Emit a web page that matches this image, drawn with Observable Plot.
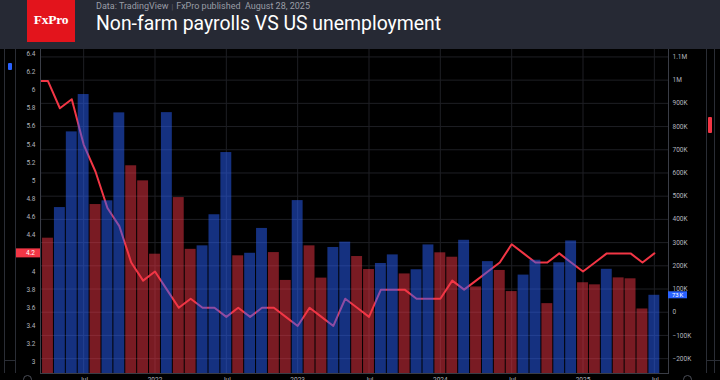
<!DOCTYPE html>
<html><head><meta charset="utf-8">
<script src="https://cdn.jsdelivr.net/npm/d3@7"></script>
<script src="https://cdn.jsdelivr.net/npm/@observablehq/plot@0.6"></script>
<style>
html,body{margin:0;padding:0;background:#000;width:720px;height:380px;overflow:hidden;font-family:Roboto,"Noto Sans",sans-serif;}
#header{position:absolute;left:0;top:0;width:720px;height:49px;background:#262934;}
#logo{position:absolute;left:27px;top:0;width:48px;height:42px;background:#e3141c;color:#fff;font-family:"Liberation Serif","DejaVu Serif",serif;font-weight:bold;font-size:13.5px;line-height:40px;text-align:center;letter-spacing:-0.2px;}
#sub{position:absolute;left:96px;top:2px;font-size:9px;line-height:1;color:#9a9da6;white-space:nowrap;}
#sub .sep{color:#666a75;font-size:7px;margin:0 3px;}
#title{position:absolute;left:96px;top:13.5px;font-size:19.4px;line-height:1;color:#fff;white-space:nowrap;}
#chart{position:absolute;left:0;top:49px;}
.strip{position:absolute;top:49px;height:324px;background:#000;}
#lstrip{left:4px;width:10px;border-left:1px solid #2a2d35;border-right:1px solid #2a2d35;}
#rstrip{left:706px;width:7px;border-left:1px solid #2a2d35;border-right:1px solid #2a2d35;}
#lmark{position:absolute;left:8px;top:63px;width:4px;height:7px;background:#2962ff;border-radius:1px;}
#rmark{position:absolute;left:708px;top:117px;width:4px;height:16px;background:#f23645;border-radius:1px;}
.hl{position:absolute;height:1px;background:#2a2d35;top:360px;}
.circ{position:absolute;top:375px;width:7px;height:7px;border:1px solid #4a4d57;border-radius:50%;}
</style>
</head><body>
<div id="header">
  <div id="logo">FxPro</div>
  <div id="sub">Data: TradingView<span class="sep">|</span>FxPro published&nbsp; August 28, 2025</div>
  <div id="title">Non-farm payrolls VS US unemployment</div>
</div>
<div id="chart"></div>
<div class="strip" id="lstrip"></div>
<div class="strip" id="rstrip"></div>
<div class="hl" style="left:4px;width:11px"></div>
<div class="hl" style="left:706px;width:14px"></div>
<div id="lmark"></div>
<div id="rmark"></div>
<div class="circ" style="left:23px"></div>
<div class="circ" style="left:683px"></div>
<script>
// Monthly categories (Mar 2021 - Jul 2025)
const months = [
  "2021-03","2021-04","2021-05","2021-06","2021-07","2021-08","2021-09","2021-10","2021-11","2021-12",
  "2022-01","2022-02","2022-03","2022-04","2022-05","2022-06","2022-07","2022-08","2022-09","2022-10","2022-11","2022-12",
  "2023-01","2023-02","2023-03","2023-04","2023-05","2023-06","2023-07","2023-08","2023-09","2023-10","2023-11","2023-12",
  "2024-01","2024-02","2024-03","2024-04","2024-05","2024-06","2024-07","2024-08","2024-09","2024-10","2024-11","2024-12",
  "2025-01","2025-02","2025-03","2025-04","2025-05","2025-06","2025-07"
];
// Non-farm payrolls, thousands
const payrolls = [
  830, 319, 451, 777, 938, 464, 480, 859, 631, 566,
  250, 860, 494, 271, 286, 420, 688, 243, 254, 361, 257, 137,
  481, 286, 147, 279, 302, 240, 184, 210, 247, 165, 183, 290,
  256, 237, 310, 109, 218, 180, 89, 160, 224, 37, 213, 307,
  127, 118, 185, 148, 144, 14, 73
];
// US unemployment rate, %
const unemployment = [
  6.1, 6.1, 5.8, 5.9, 5.4, 5.1, 4.7, 4.5, 4.1, 3.9,
  4.0, 3.8, 3.6, 3.7, 3.6, 3.6, 3.5, 3.6, 3.5, 3.6, 3.6, 3.5,
  3.4, 3.6, 3.5, 3.4, 3.7, 3.6, 3.5, 3.8, 3.8, 3.8, 3.7, 3.7,
  3.7, 3.9, 3.8, 3.9, 4.0, 4.1, 4.3, 4.2, 4.1, 4.1, 4.2, 4.1,
  4.0, 4.1, 4.2, 4.2, 4.2, 4.1, 4.2
];
const nfpTicks = [-200,-100,0,100,200,300,400,500,600,700,800,900,1000,1100];
const rateTicks = [3,3.2,3.4,3.6,3.8,4,4.2,4.4,4.6,4.8,5,5.2,5.4,5.6,5.8,6,6.2,6.4];

const BLUE = "#2962ff", RED = "#f23645";
const rows = months.map((m, i) => ({
  i, month: m, nfp: payrolls[i], rate: unemployment[i],
  up: i === 0 || payrolls[i] >= payrolls[i - 1]
}));
// map unemployment (%) onto the payrolls scale (dual axis)
const u2n = d3.scaleLinear().domain([3, 6.4]).range([-215.4, 1113.3]);
const yMin = -264, yMax = 1132;
const xTicks = rows.filter(d => /-(01|07)$/.test(d.month)).map(d => d.i);
const xLabel = i => months[i].endsWith("-01") ? months[i].slice(0, 4) : "Jul";
const fmtK = v => v === 0 ? "0" : Math.abs(v) >= 1000 ? (v / 1000) + "M" : (v < 0 ? "\u2212" : "") + Math.abs(v) + "K";
const fmtRate = u => String(Math.round(u * 10) / 10);

const plot = Plot.plot({
  width: 720, height: 350,
  marginLeft: 40, marginRight: 52, marginTop: 0, marginBottom: 26,
  style: {background: "#000", color: "#b2b5be", fontSize: "6.5px", fontFamily: "Roboto, sans-serif"},
  x: {type: "linear", domain: [0.37, 53.19]},
  y: {domain: [yMin, yMax]},
  marks: [
    Plot.gridY(nfpTicks, {stroke: "#1e1f24", strokeOpacity: 1}),
    Plot.gridX(xTicks, {stroke: "#1e1f24", strokeOpacity: 1}),
    Plot.line(rows, {x: "i", y: d => u2n(d.rate), stroke: RED, strokeWidth: 2, clip: true}),
    Plot.rect(rows, {
      x1: d => d.i - 0.5, x2: d => d.i + 0.5, y1: () => yMin, y2: "nfp",
      fill: d => d.up ? BLUE : RED, fillOpacity: 0.5, insetLeft: 0.5, insetRight: 0.5, clip: true
    }),
    Plot.axisY(nfpTicks, {anchor: "right", tickSize: 0, tickPadding: 4, tickFormat: fmtK, label: null}),
    Plot.axisY(rateTicks.map(u2n), {anchor: "left", tickSize: 0, tickPadding: 5, tickFormat: n => fmtRate(u2n.invert(n)), label: null}),
    Plot.axisX(xTicks, {anchor: "bottom", tickSize: 0, tickPadding: 4, tickFormat: xLabel, label: null}),
    Plot.frame({anchor: "left", stroke: "#3a3d46"}),
    Plot.frame({anchor: "right", stroke: "#3a3d46"}),
    Plot.frame({anchor: "bottom", stroke: "#3a3d46"})
  ]
});
document.getElementById("chart").appendChild(plot);

// last-value badges, positioned through the plot's own scales
const ys = plot.scale("y");
const svg = d3.select(plot);
const last = rows[rows.length - 1];
const yR = ys.apply(u2n(last.rate));
svg.append("rect").attr("x", 15).attr("y", yR - 4.5).attr("width", 25).attr("height", 9).attr("fill", RED);
svg.append("text").attr("x", 35).attr("y", yR).attr("dy", "0.35em").attr("text-anchor", "end")
  .attr("fill", "#fff").attr("font-size", 6.5).attr("font-family", "Roboto, sans-serif").text(fmtRate(last.rate));
const yN = ys.apply(last.nfp);
svg.append("rect").attr("x", 668).attr("y", yN - 3.5).attr("width", 19).attr("height", 7).attr("fill", BLUE);
svg.append("text").attr("x", 672).attr("y", yN).attr("dy", "0.35em").attr("text-anchor", "start")
  .attr("fill", "#fff").attr("font-size", 6).attr("font-family", "Roboto, sans-serif").text(last.nfp + "\u202fK");
</script>
</body></html>
